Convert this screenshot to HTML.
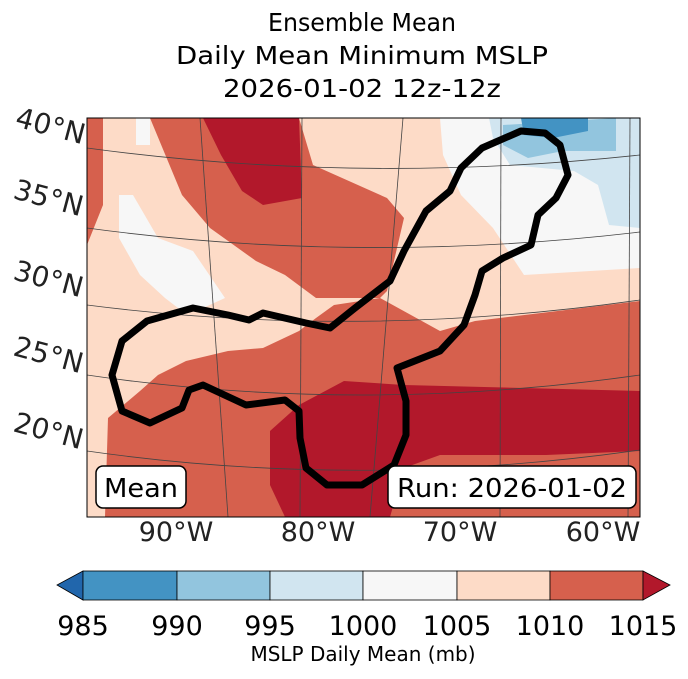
<!DOCTYPE html>
<html><head><meta charset="utf-8"><style>
body{margin:0;background:#fff;}
svg text{font-family:"DejaVu Sans","Liberation Sans",sans-serif;}
</style></head><body>
<svg width="688" height="674" viewBox="0 0 688 674">
<g font-size="25" text-anchor="middle" fill="#000">
<text x="362" y="31" textLength="188" lengthAdjust="spacingAndGlyphs">Ensemble Mean</text>
<text x="362" y="64" textLength="372" lengthAdjust="spacingAndGlyphs">Daily Mean Minimum MSLP</text>
<text x="362" y="97" textLength="278" lengthAdjust="spacingAndGlyphs">2026-01-02 12z-12z</text>
</g>
<defs><clipPath id="mc"><rect x="87" y="118" width="553" height="399"/></clipPath></defs>
<g clip-path="url(#mc)">
<rect x="87" y="118" width="553" height="399" fill="#fddbc7"/>
<polygon fill="#d6604d" points="87,118 103,118 103,205 87,245"/>
<polygon fill="#f7f7f7" points="136,118 150,118 150,145 136,145"/>
<polygon fill="#d6604d" points="150,118 299,118 313,165 387,198 404,218 387,291 380,298 316,298 285,275 256,261 210,228 182,195"/>
<polygon fill="#b2182b" points="203,118 299,118 302,198 263,205 242,191 221,155"/>
<polygon fill="#f7f7f7" points="119,195 133,195 158,238 193,251 225,298 203,308 182,311 165,298 140,275 119,238"/>
<polygon fill="#f7f7f7" points="440,118 640,118 640,268 524,275 493,228 461,195 443,155"/>
<polygon fill="#d1e5f0" points="489,118 640,118 640,228 609,225 598,185 574,171 510,165 493,138"/>
<polygon fill="#92c5de" points="503,125 616,118 616,151 563,151 528,158 503,145"/>
<polygon fill="#4393c3" points="521,118 588,118 588,131 553,138 524,135"/>
<polygon fill="#d6604d" points="105,517 108,418 140,391 158,375 186,361 228,351 263,348 299,331 316,318 334,305 380,298 440,331 475,321 640,301 640,517"/>
<polygon fill="#b2182b" points="270,431 299,405 344,381 404,385 640,391 640,451 546,455 440,455 404,468 390,517 285,517 270,485"/>
<g stroke="#444" stroke-width="0.8" fill="none">
<path d="M87,148 Q360,185 640,155"/>
<path d="M87,228 Q360,265 640,232"/>
<path d="M87,305 Q360,340 640,300"/>
<path d="M87,375 Q360,415 640,375"/>
<path d="M87,451 Q360,490 640,450"/>
<path d="M200,118 L228,517"/>
<path d="M302,118 L300,517"/>
<path d="M403,118 L370,517"/>
<path d="M501,118 L500,517"/>
<path d="M630,118 L628,517"/>
</g>
<path fill="none" stroke="#000" stroke-width="7" stroke-linejoin="round" d="M521,131 L545,133 L560,145 L568,175 L556,198 L538,215 L531,245 L503,258 L482,271 L475,295 L464,325 L440,351 L397,368 L406,401 L406,435 L394,465 L362,485 L327,485 L306,468 L300,438 L299,411 L285,400 L246,405 L203,385 L189,390 L182,408 L150,423 L122,411 L112,375 L122,341 L147,321 L193,308 L228,315 L249,320 L263,313 L306,323 L330,328 L355,308 L390,281 L404,251 L426,211 L450,191 L461,168 L482,148 Z"/>
</g>
<rect x="87" y="118" width="553" height="399" fill="none" stroke="#000" stroke-width="1"/>
<g>
<rect x="96" y="466" width="90" height="42" rx="7" fill="#fff" stroke="#000" stroke-width="1.5"/>
<text x="141" y="497" font-size="26" text-anchor="middle" textLength="74" lengthAdjust="spacingAndGlyphs">Mean</text></g>
<g>
<rect x="388" y="466" width="248" height="42" rx="7" fill="#fff" stroke="#000" stroke-width="1.5"/>
<text x="512" y="497" font-size="26" text-anchor="middle" textLength="230" lengthAdjust="spacingAndGlyphs">Run: 2026-01-02</text></g>
<g font-size="28" fill="#222">
<text transform="translate(14,126) rotate(15)">40°N</text>
<text transform="translate(12,198) rotate(15)">35°N</text>
<text transform="translate(12,279) rotate(15)">30°N</text>
<text transform="translate(12,355) rotate(15)">25°N</text>
<text transform="translate(12,431) rotate(15)">20°N</text>
</g>
<g font-size="27" fill="#222" text-anchor="middle">
<text x="176" y="541">90°W</text><text x="318" y="541">80°W</text>
<text x="460" y="541">70°W</text><text x="603" y="541">60°W</text>
</g>
<g stroke="#000" stroke-width="0.8">
<polygon points="83,571 57,585 83,600" fill="#2166ac"/>
<rect x="83" y="571" width="94" height="29" fill="#4393c3"/>
<rect x="177" y="571" width="93" height="29" fill="#92c5de"/>
<rect x="270" y="571" width="93" height="29" fill="#d1e5f0"/>
<rect x="363" y="571" width="94" height="29" fill="#f7f7f7"/>
<rect x="457" y="571" width="93" height="29" fill="#fddbc7"/>
<rect x="550" y="571" width="93" height="29" fill="#d6604d"/>
<polygon points="643,571 670,585 643,600" fill="#b2182b"/>
</g>
<g font-size="27" text-anchor="middle">
<text x="83" y="635">985</text><text x="177" y="635">990</text><text x="270" y="635">995</text>
<text x="363" y="635">1000</text><text x="457" y="635">1005</text><text x="550" y="635">1010</text><text x="643" y="635">1015</text>
</g>
<text x="363" y="661" font-size="20" text-anchor="middle">MSLP Daily Mean (mb)</text>
</svg>
</body></html>
